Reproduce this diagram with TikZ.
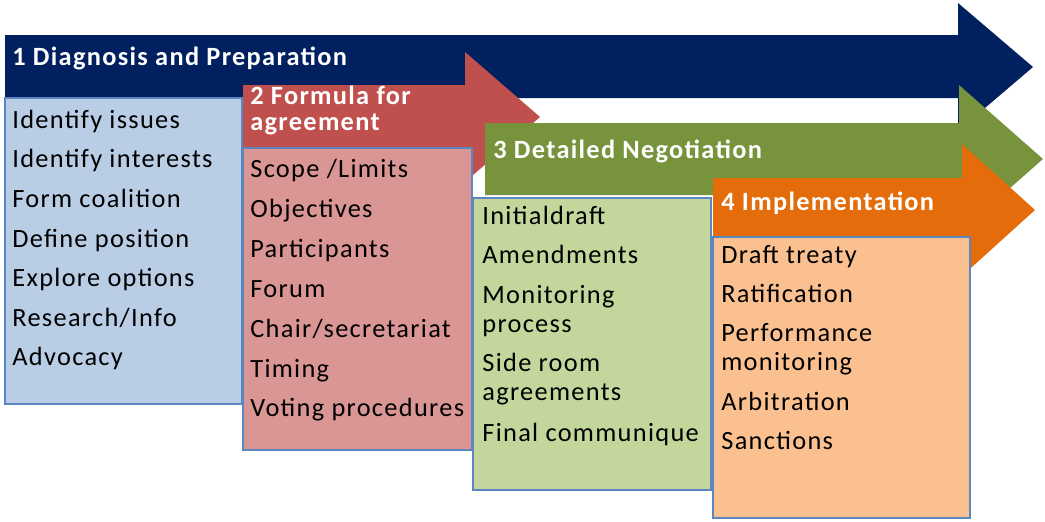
\documentclass[tikz,border=0pt]{standalone}
\usepackage{fontspec}
\setmainfont[LetterSpace=5]{Carlito}
\definecolor{navyc}{HTML}{002060}
\definecolor{redc}{HTML}{C0504D}
\definecolor{greenc}{HTML}{77933C}
\definecolor{orangec}{HTML}{E46C0A}
\definecolor{bluelt}{HTML}{B9CDE5}
\definecolor{redlt}{HTML}{D99694}
\definecolor{greenlt}{HTML}{C3D69B}
\definecolor{orangelt}{HTML}{FAC090}
\definecolor{edge}{HTML}{5B87C0}
\begin{document}
\begin{tikzpicture}[x=0.02cm,y=-0.02cm,
  head/.style={anchor=base west, inner sep=0pt, text=white, align=left, font=\fontsize{15}{14.3}\selectfont\bfseries},
  item/.style={anchor=base west, inner sep=0pt, align=left, font=\fontsize{15}{16}\selectfont},
  panel/.style={draw=edge, line width=1.1pt}]
\useasboundingbox (0,0) rectangle (1045,521);

% phase 1
\fill[navyc] (5,35) -- (958,35) -- (958,3) -- (1033,67) -- (958,131) -- (958,98) -- (5,98) -- cycle;
\filldraw[panel, fill=bluelt] (5,98) rectangle (242,404);
\node[head] (h1) at (12,65) {1 Diagnosis and Preparation};
\foreach \y/\t [count=\i] in {128/Identify issues, 167/Identify interests, 207/Form coalition,
    247/Define position, 286/Explore options, 326/{Research/Info}, 365/Advocacy}
  \node[item] (a\i) at (12,\y) {\t};

% phase 2
\fill[redc] (243,85) -- (465,85) -- (465,52) -- (540,117) -- (465,182) -- (465,148) -- (243,148) -- cycle;
\filldraw[panel, fill=redlt] (243,148) rectangle (472,450);
\node[head] (h2) at (250,130) {2 Formula for\\agreement};
\foreach \y/\t [count=\i] in {177/{Scope /Limits}, 217/Objectives, 257/Participants, 297/Forum,
    337/{Chair/secretariat}, 377/Timing, 416/Voting procedures}
  \node[item] (b\i) at (250,\y) {\t};

% phase 3
\fill[greenc] (485,123) -- (959,123) -- (959,85) -- (1043,159) -- (959,233) -- (959,195) -- (485,195) -- cycle;
\filldraw[panel, fill=greenlt] (473,198) rectangle (711,490);
\node[head] (h3) at (493,158) {3 Detailed Negotiation};
\foreach \y/\t [count=\i] in {224/Initialdraft, 263/Amendments, 332/{Monitoring\\process},
    400/{Side room\\agreements}, 441/Final communique}
  \node[item] (c\i) at (482,\y) {\t};

% phase 4
\fill[orangec] (713,178) -- (962,178) -- (962,144) -- (1035,210) -- (962,276) -- (962,242) -- (713,242) -- cycle;
\filldraw[panel, fill=orangelt] (713,237) rectangle (970,518);
\node[head] (h4) at (721,210) {4 Implementation};
\foreach \y/\t [count=\i] in {263/Draft treaty, 302/Ratification, 370/{Performance\\monitoring},
    410/Arbitration, 449/Sanctions}
  \node[item] (d\i) at (721,\y) {\t};
\end{tikzpicture}
\end{document}
